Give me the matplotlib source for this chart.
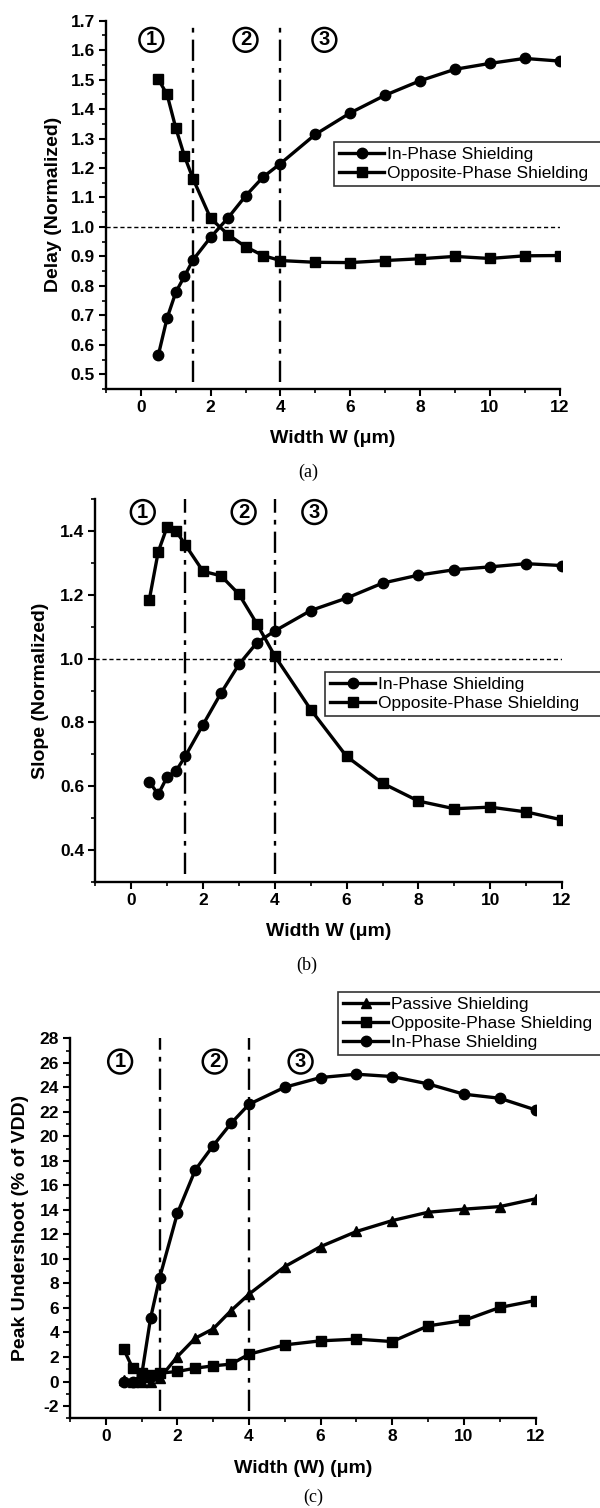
import matplotlib
matplotlib.use("Agg")
import matplotlib.pyplot as plt
from matplotlib.ticker import MultipleLocator

# ---------------- data ----------------
width = [0.5, 0.75, 1.0, 1.25, 1.5, 2.0, 2.5, 3.0, 3.5, 4, 5, 6, 7, 8, 9, 10, 11, 12]

delay_in_phase = [0.565, 0.690, 0.778, 0.833, 0.889, 0.965, 1.031, 1.105, 1.169, 1.215,
                  1.314, 1.387, 1.447, 1.496, 1.535, 1.555, 1.572, 1.563]
delay_opposite = [1.501, 1.450, 1.336, 1.240, 1.162, 1.029, 0.974, 0.933, 0.903, 0.886,
                  0.880, 0.879, 0.886, 0.892, 0.900, 0.893, 0.902, 0.903]

slope_in_phase = [0.614, 0.574, 0.629, 0.648, 0.693, 0.793, 0.892, 0.982, 1.050, 1.087,
                  1.151, 1.190, 1.237, 1.262, 1.279, 1.288, 1.298, 1.292]
slope_opposite = [1.184, 1.335, 1.414, 1.400, 1.358, 1.274, 1.260, 1.202, 1.109, 1.008,
                  0.840, 0.693, 0.609, 0.553, 0.529, 0.534, 0.519, 0.494]

under_passive = [0.1, 0.0, 0.0, 0.0, 0.25, 2.04, 3.54, 4.30, 5.79, 7.13,
                 9.38, 11.01, 12.24, 13.13, 13.81, 14.06, 14.27, 14.90]
under_opposite = [2.64, 1.09, 0.68, 0.55, 0.68, 0.82, 1.09, 1.28, 1.42, 2.23,
                  2.99, 3.32, 3.46, 3.26, 4.54, 4.98, 6.04, 6.61]
under_in_phase = [0.0, 0.0, 0.5, 5.17, 8.43, 13.73, 17.27, 19.25, 21.07, 22.62,
                  24.01, 24.80, 25.07, 24.88, 24.28, 23.44, 23.11, 22.16]

region_bounds = [1.5, 4.0]
region_labels = ["1", "2", "3"]

plt.rcParams['font.family'] = ['Liberation Sans', 'DejaVu Sans']
plt.rcParams['font.weight'] = 'bold'
plt.rcParams['axes.unicode_minus'] = False

W, H = 600, 1508
fig = plt.figure(figsize=(W / 100, H / 100), dpi=100)


def rect(l, t, r, b):
    return [l / W, 1 - b / H, (r - l) / W, (b - t) / H]


LW = 2.4
MS = 7.5
DASHDOT = (0, (9, 3, 2, 3))


def style_axes(ax, ylim, ymaj, ymin_, ylabel, xlabel, ylab_px, cap, cap_x, cap_y):
    ax.set_xlim(-1, 12)
    ax.set_ylim(*ylim)
    for s in ['top', 'right']:
        ax.spines[s].set_visible(False)
    for s in ['left', 'bottom']:
        ax.spines[s].set_linewidth(1.7)
    ax.xaxis.set_major_locator(MultipleLocator(2))
    ax.xaxis.set_minor_locator(MultipleLocator(1))
    ax.yaxis.set_major_locator(MultipleLocator(ymaj))
    ax.yaxis.set_minor_locator(MultipleLocator(ymin_))
    ax.tick_params(which='major', direction='out', length=5, width=1.5,
                   labelsize=12.5, pad=3)
    ax.tick_params(which='minor', direction='out', length=3, width=1.2)
    ax.set_xlabel(xlabel, fontsize=14, fontweight='bold', labelpad=11)
    ax.set_ylabel(ylabel, fontsize=14, fontweight='bold')
    bb = ax.get_position()
    ax.yaxis.set_label_coords(-ylab_px / (bb.width * W), 0.5)
    for xb in region_bounds:
        ax.axvline(xb, ymin=0.02, ymax=1.0, color='black', lw=1.7, linestyle=DASHDOT)
    fig.text(cap_x / W, 1 - cap_y / H, cap, fontsize=13, fontweight='normal',
             family=['Liberation Serif', 'DejaVu Serif'], ha='center', va='center')


def circled(ax, xs, y):
    for x, t in zip(xs, region_labels):
        ax.text(x, y, t, fontsize=14.5, fontweight='bold', ha='center', va='center',
                bbox=dict(boxstyle='circle,pad=0.12', fc='white', ec='black', lw=1.8))


def legend(handles, labels, left, top, height):
    lg = fig.legend(handles, labels, loc='upper left',
                    bbox_to_anchor=(left / W, 1 - (top + height) / H,
                                    (610 - left) / W, height / H),
                    mode='expand', prop={'size': 12.5, 'weight': 'normal'},
                    frameon=True, fancybox=False,
                    handlelength=2.6, handletextpad=0.15, borderpad=0.3,
                    labelspacing=0.2, borderaxespad=0)
    lg.get_frame().set_edgecolor('black')
    lg.get_frame().set_linewidth(1.2)
    return lg


# ---------------- panel (a) ----------------
axa = fig.add_axes(rect(106, 20.7, 559.5, 389))
la1, = axa.plot(width, delay_in_phase, '-o', color='black', lw=LW, ms=MS)
la2, = axa.plot(width, delay_opposite, '-s', color='black', lw=LW, ms=MS - 0.5)
axa.axhline(1.0, color='black', lw=1.0, linestyle=(0, (3, 2)))
circled(axa, [0.3, 3.0, 5.26], 1.635)
style_axes(axa, (0.45, 1.7), 0.1, 0.05, 'Delay (Normalized)', 'Width W (\u03bcm)',
           44, '(a)', 308, 472)
legend([la1, la2], ['In-Phase Shielding', 'Opposite-Phase Shielding'], 334, 142, 47)

# ---------------- panel (b) ----------------
axb = fig.add_axes(rect(95.4, 499.3, 562, 881.7))
lb1, = axb.plot(width, slope_in_phase, '-o', color='black', lw=LW, ms=MS)
lb2, = axb.plot(width, slope_opposite, '-s', color='black', lw=LW, ms=MS - 0.5)
axb.axhline(1.0, color='black', lw=1.0, linestyle=(0, (3, 2)))
circled(axb, [0.32, 3.13, 5.1], 1.46)
style_axes(axb, (0.3, 1.5), 0.2, 0.1, 'Slope (Normalized)', 'Width W (\u03bcm)',
           46, '(b)', 307, 965)
legend([lb1, lb2], ['In-Phase Shielding', 'Opposite-Phase Shielding'], 325, 672, 48)

# ---------------- panel (c) ----------------
axc = fig.add_axes(rect(70, 1038.3, 535.5, 1418.3))
lc1, = axc.plot(width, under_passive, '-^', color='black', lw=LW, ms=MS)
lc2, = axc.plot(width, under_opposite, '-s', color='black', lw=LW, ms=MS - 0.5)
lc3, = axc.plot(width, under_in_phase, '-o', color='black', lw=LW, ms=MS)
circled(axc, [0.4, 3.04, 5.44], 26.1)
style_axes(axc, (-3, 28), 2, 1, 'Peak Undershoot (% of VDD)', 'Width (W) (\u03bcm)',
           41, '(c)', 313, 1497)
legend([lc1, lc2, lc3], ['Passive Shielding', 'Opposite-Phase Shielding',
                         'In-Phase Shielding'], 338, 992, 69)

fig.savefig('out.png', dpi=100)
